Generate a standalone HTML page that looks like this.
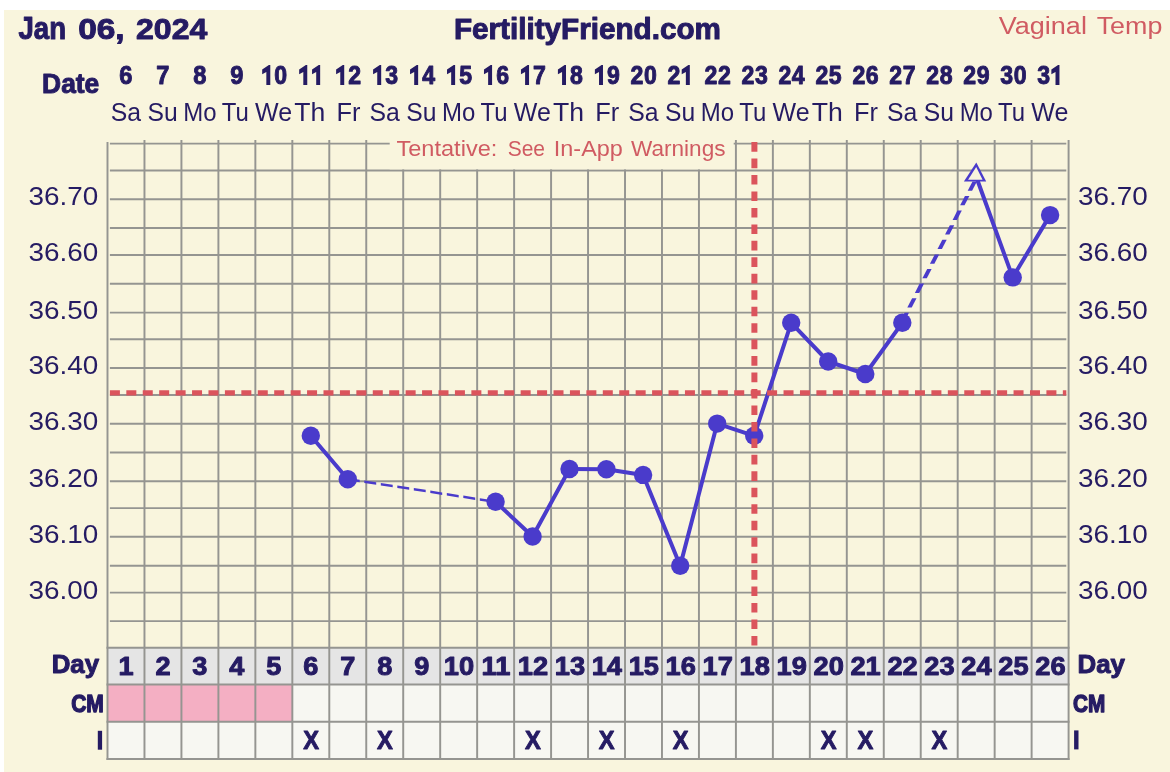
<!DOCTYPE html>
<html><head><meta charset="utf-8"><title>FertilityFriend Chart</title>
<style>
html,body{margin:0;padding:0;background:#fff;width:1170px;height:772px;overflow:hidden;}
svg{display:block;position:absolute;left:0;top:0;will-change:transform;}
text{font-family:"Liberation Sans",sans-serif;}
</style></head><body>
<svg width="1170" height="772" viewBox="0 0 1170 772">
<rect x="0" y="0" width="1170" height="772" fill="#ffffff"/>
<rect x="4" y="10" width="1166" height="762" fill="#f9f5dd"/>
<rect x="107.5" y="647.8" width="961.09" height="36.70" fill="#e5e5e5"/>
<rect x="107.5" y="684.5" width="961.09" height="74.50" fill="#f7f7f2"/>
<rect x="107.5" y="684.5" width="184.83" height="37.30" fill="#f4afc3"/>
<line x1="109.9" x2="1066.3" y1="143.6" y2="143.6" stroke="#959591" stroke-width="1.95"/>
<line x1="109.9" x2="1066.3" y1="170.4" y2="170.4" stroke="#959591" stroke-width="1.95"/>
<line x1="109.9" x2="1066.3" y1="199.2" y2="199.2" stroke="#959591" stroke-width="1.95"/>
<line x1="109.9" x2="1066.3" y1="228.0" y2="228.0" stroke="#959591" stroke-width="1.95"/>
<line x1="109.9" x2="1066.3" y1="254.9" y2="254.9" stroke="#959591" stroke-width="1.95"/>
<line x1="109.9" x2="1066.3" y1="283.8" y2="283.8" stroke="#959591" stroke-width="1.95"/>
<line x1="109.9" x2="1066.3" y1="312.6" y2="312.6" stroke="#959591" stroke-width="1.95"/>
<line x1="109.9" x2="1066.3" y1="339.3" y2="339.3" stroke="#959591" stroke-width="1.95"/>
<line x1="109.9" x2="1066.3" y1="367.9" y2="367.9" stroke="#959591" stroke-width="1.95"/>
<line x1="109.9" x2="1066.3" y1="395.0" y2="395.0" stroke="#959591" stroke-width="1.95"/>
<line x1="109.9" x2="1066.3" y1="423.7" y2="423.7" stroke="#959591" stroke-width="1.95"/>
<line x1="109.9" x2="1066.3" y1="452.5" y2="452.5" stroke="#959591" stroke-width="1.95"/>
<line x1="109.9" x2="1066.3" y1="481.2" y2="481.2" stroke="#959591" stroke-width="1.95"/>
<line x1="109.9" x2="1066.3" y1="508.1" y2="508.1" stroke="#959591" stroke-width="1.95"/>
<line x1="109.9" x2="1066.3" y1="536.8" y2="536.8" stroke="#959591" stroke-width="1.95"/>
<line x1="109.9" x2="1066.3" y1="565.7" y2="565.7" stroke="#959591" stroke-width="1.95"/>
<line x1="109.9" x2="1066.3" y1="592.6" y2="592.6" stroke="#959591" stroke-width="1.95"/>
<line x1="109.9" x2="1066.3" y1="621.1" y2="621.1" stroke="#959591" stroke-width="1.95"/>
<line x1="107.50" x2="107.50" y1="142" y2="760.0" stroke="#959591" stroke-width="1.95"/>
<line x1="144.47" x2="144.47" y1="140" y2="760.0" stroke="#959591" stroke-width="1.95"/>
<line x1="181.43" x2="181.43" y1="140" y2="760.0" stroke="#959591" stroke-width="1.95"/>
<line x1="218.40" x2="218.40" y1="140" y2="760.0" stroke="#959591" stroke-width="1.95"/>
<line x1="255.36" x2="255.36" y1="140" y2="760.0" stroke="#959591" stroke-width="1.95"/>
<line x1="292.33" x2="292.33" y1="140" y2="760.0" stroke="#959591" stroke-width="1.95"/>
<line x1="329.29" x2="329.29" y1="140" y2="760.0" stroke="#959591" stroke-width="1.95"/>
<line x1="366.25" x2="366.25" y1="140" y2="760.0" stroke="#959591" stroke-width="1.95"/>
<line x1="403.22" x2="403.22" y1="140" y2="760.0" stroke="#959591" stroke-width="1.95"/>
<line x1="440.19" x2="440.19" y1="140" y2="760.0" stroke="#959591" stroke-width="1.95"/>
<line x1="477.15" x2="477.15" y1="140" y2="760.0" stroke="#959591" stroke-width="1.95"/>
<line x1="514.12" x2="514.12" y1="140" y2="760.0" stroke="#959591" stroke-width="1.95"/>
<line x1="551.08" x2="551.08" y1="140" y2="760.0" stroke="#959591" stroke-width="1.95"/>
<line x1="588.05" x2="588.05" y1="140" y2="760.0" stroke="#959591" stroke-width="1.95"/>
<line x1="625.01" x2="625.01" y1="140" y2="760.0" stroke="#959591" stroke-width="1.95"/>
<line x1="661.98" x2="661.98" y1="140" y2="760.0" stroke="#959591" stroke-width="1.95"/>
<line x1="698.94" x2="698.94" y1="140" y2="760.0" stroke="#959591" stroke-width="1.95"/>
<line x1="735.91" x2="735.91" y1="140" y2="760.0" stroke="#959591" stroke-width="1.95"/>
<line x1="772.87" x2="772.87" y1="140" y2="760.0" stroke="#959591" stroke-width="1.95"/>
<line x1="809.84" x2="809.84" y1="140" y2="760.0" stroke="#959591" stroke-width="1.95"/>
<line x1="846.80" x2="846.80" y1="140" y2="760.0" stroke="#959591" stroke-width="1.95"/>
<line x1="883.77" x2="883.77" y1="140" y2="760.0" stroke="#959591" stroke-width="1.95"/>
<line x1="920.73" x2="920.73" y1="140" y2="760.0" stroke="#959591" stroke-width="1.95"/>
<line x1="957.70" x2="957.70" y1="140" y2="760.0" stroke="#959591" stroke-width="1.95"/>
<line x1="994.66" x2="994.66" y1="140" y2="760.0" stroke="#959591" stroke-width="1.95"/>
<line x1="1031.62" x2="1031.62" y1="140" y2="760.0" stroke="#959591" stroke-width="1.95"/>
<line x1="1068.59" x2="1068.59" y1="140" y2="760.0" stroke="#959591" stroke-width="1.95"/>
<line x1="106.5" x2="1069.49" y1="647.8" y2="647.8" stroke="#959591" stroke-width="1.95"/>
<line x1="106.5" x2="1069.49" y1="684.5" y2="684.5" stroke="#959591" stroke-width="1.95"/>
<line x1="106.5" x2="1069.49" y1="721.8" y2="721.8" stroke="#959591" stroke-width="1.95"/>
<line x1="106.5" x2="1069.49" y1="759.0" y2="759.0" stroke="#959591" stroke-width="1.95"/>
<rect x="389.7" y="136" width="344" height="33.3" fill="#f9f5dd"/>
<line x1="310.8" y1="435.8" x2="347.8" y2="479.2" stroke="#4a3bcb" stroke-width="4" stroke-linecap="round"/>
<polygon points="347.80,477.95 359.70,479.77 359.70,482.27 347.80,480.45" fill="#4a3bcb"/>
<polygon points="364.30,480.47 376.20,482.29 376.20,484.79 364.30,482.97" fill="#4a3bcb"/>
<polygon points="380.80,483.00 392.70,484.82 392.70,487.32 380.80,485.50" fill="#4a3bcb"/>
<polygon points="397.30,485.52 409.20,487.34 409.20,489.84 397.30,488.02" fill="#4a3bcb"/>
<polygon points="413.80,488.04 425.70,489.86 425.70,492.36 413.80,490.54" fill="#4a3bcb"/>
<polygon points="430.30,490.57 442.20,492.38 442.20,494.88 430.30,493.07" fill="#4a3bcb"/>
<polygon points="446.80,493.09 458.70,494.91 458.70,497.41 446.80,495.59" fill="#4a3bcb"/>
<polygon points="463.30,495.61 475.20,497.43 475.20,499.93 463.30,498.11" fill="#4a3bcb"/>
<polygon points="479.80,498.13 491.70,499.95 491.70,502.45 479.80,500.63" fill="#4a3bcb"/>
<line x1="495.6" y1="501.8" x2="532.6" y2="536.5" stroke="#4a3bcb" stroke-width="4" stroke-linecap="round"/>
<line x1="532.6" y1="536.5" x2="569.5" y2="469.0" stroke="#4a3bcb" stroke-width="4" stroke-linecap="round"/>
<line x1="569.5" y1="469.0" x2="606.4" y2="469.2" stroke="#4a3bcb" stroke-width="4" stroke-linecap="round"/>
<line x1="606.4" y1="469.2" x2="643.1" y2="474.9" stroke="#4a3bcb" stroke-width="4" stroke-linecap="round"/>
<line x1="643.1" y1="474.9" x2="680.2" y2="565.8" stroke="#4a3bcb" stroke-width="4" stroke-linecap="round"/>
<line x1="680.2" y1="565.8" x2="717.2" y2="423.6" stroke="#4a3bcb" stroke-width="4" stroke-linecap="round"/>
<line x1="717.2" y1="423.6" x2="754.2" y2="435.8" stroke="#4a3bcb" stroke-width="4" stroke-linecap="round"/>
<line x1="754.2" y1="435.8" x2="791.2" y2="322.8" stroke="#4a3bcb" stroke-width="4" stroke-linecap="round"/>
<line x1="791.2" y1="322.8" x2="828.2" y2="361.5" stroke="#4a3bcb" stroke-width="4" stroke-linecap="round"/>
<line x1="828.2" y1="361.5" x2="865.3" y2="374.0" stroke="#4a3bcb" stroke-width="4" stroke-linecap="round"/>
<line x1="865.3" y1="374.0" x2="902.3" y2="322.8" stroke="#4a3bcb" stroke-width="4" stroke-linecap="round"/>
<polygon points="899.75,322.10 904.56,312.80 908.96,312.80 904.15,322.10" fill="#4a3bcb"/>
<polygon points="907.30,307.50 912.11,298.20 916.51,298.20 911.70,307.50" fill="#4a3bcb"/>
<polygon points="914.85,292.90 919.66,283.60 924.06,283.60 919.25,292.90" fill="#4a3bcb"/>
<polygon points="922.40,278.30 927.21,269.00 931.61,269.00 926.80,278.30" fill="#4a3bcb"/>
<polygon points="929.95,263.70 934.76,254.40 939.16,254.40 934.35,263.70" fill="#4a3bcb"/>
<polygon points="937.50,249.10 942.30,239.80 946.70,239.80 941.90,249.10" fill="#4a3bcb"/>
<polygon points="945.04,234.50 949.85,225.20 954.25,225.20 949.44,234.50" fill="#4a3bcb"/>
<polygon points="952.59,219.90 957.40,210.60 961.80,210.60 956.99,219.90" fill="#4a3bcb"/>
<polygon points="960.14,205.30 964.95,196.00 969.35,196.00 964.54,205.30" fill="#4a3bcb"/>
<polygon points="967.69,190.70 972.50,181.40 976.90,181.40 972.09,190.70" fill="#4a3bcb"/>
<line x1="976.2" y1="176.7" x2="1012.7" y2="277.4" stroke="#4a3bcb" stroke-width="4" stroke-linecap="round"/>
<line x1="1012.7" y1="277.4" x2="1050.1" y2="215.1" stroke="#4a3bcb" stroke-width="4" stroke-linecap="round"/>
<circle cx="310.8" cy="435.8" r="9.2" fill="#4a3bcb"/>
<circle cx="347.8" cy="479.2" r="9.2" fill="#4a3bcb"/>
<circle cx="495.6" cy="501.8" r="9.2" fill="#4a3bcb"/>
<circle cx="532.6" cy="536.5" r="9.2" fill="#4a3bcb"/>
<circle cx="569.5" cy="469.0" r="9.2" fill="#4a3bcb"/>
<circle cx="606.4" cy="469.2" r="9.2" fill="#4a3bcb"/>
<circle cx="643.1" cy="474.9" r="9.2" fill="#4a3bcb"/>
<circle cx="680.2" cy="565.8" r="9.2" fill="#4a3bcb"/>
<circle cx="717.2" cy="423.6" r="9.2" fill="#4a3bcb"/>
<circle cx="754.2" cy="435.8" r="9.2" fill="#4a3bcb"/>
<circle cx="791.2" cy="322.8" r="9.2" fill="#4a3bcb"/>
<circle cx="828.2" cy="361.5" r="9.2" fill="#4a3bcb"/>
<circle cx="865.3" cy="374.0" r="9.2" fill="#4a3bcb"/>
<circle cx="902.3" cy="322.8" r="9.2" fill="#4a3bcb"/>
<circle cx="1012.7" cy="277.4" r="9.2" fill="#4a3bcb"/>
<circle cx="1050.1" cy="215.1" r="9.2" fill="#4a3bcb"/>
<polygon points="976.3,162.5 963.9,181.6 986.2,181.6" fill="#4a3bcb"/>
<polygon points="976.2,166.9 968.1,179.8 982.6,179.8" fill="#f9f5dd"/>
<line x1="109.9" x2="1066.3" y1="392.9" y2="392.9" stroke="#db545c" stroke-width="5.4" stroke-dasharray="10 6.43"/>
<line x1="754.4" x2="754.4" y1="142.1" y2="645.8" stroke="#db545c" stroke-width="6" stroke-dasharray="9.6 6.86"/>
<text transform="translate(18.45,38.70) scale(0.8920,1)" font-size="30.98" font-weight="bold" fill="#251b63" stroke="#251b63" stroke-width="1.0" stroke-linejoin="round">Jan</text>
<text transform="translate(78.16,38.70) scale(1.1135,1)" font-size="30.05" font-weight="bold" fill="#251b63" stroke="#251b63" stroke-width="1.0" stroke-linejoin="round">06,</text>
<text transform="translate(136.03,38.70) scale(1.0667,1)" font-size="30.05" font-weight="bold" fill="#251b63" stroke="#251b63" stroke-width="1.0" stroke-linejoin="round">2024</text>
<text transform="translate(453.90,39.20) scale(1.0098,1)" font-size="29.38" font-weight="bold" fill="#251b63" stroke="#251b63" stroke-width="1.0" stroke-linejoin="round">FertilityFriend.com</text>
<text transform="translate(998.70,34.30) scale(1.1008,1)" font-size="24.58" font-weight="normal" fill="#d05b62">Vaginal</text>
<text transform="translate(1096.70,34.30) scale(1.0927,1)" font-size="24.58" font-weight="normal" fill="#d05b62">Temp</text>
<text transform="translate(396.40,156.00) scale(1.0817,1)" font-size="21.82" font-weight="normal" fill="#d05b62">Tentative:</text>
<text transform="translate(507.70,156.00) scale(0.9621,1)" font-size="21.82" font-weight="normal" fill="#d05b62">See</text>
<text transform="translate(553.80,156.00) scale(1.0739,1)" font-size="21.82" font-weight="normal" fill="#d05b62">In-App</text>
<text transform="translate(631.00,156.00) scale(1.0353,1)" font-size="21.82" font-weight="normal" fill="#d05b62">Warnings</text>
<text transform="translate(42.09,92.80) scale(0.9864,1)" font-size="26.76" font-weight="bold" fill="#251b63" stroke="#251b63" stroke-width="1.0" stroke-linejoin="round">Date</text>
<text transform="translate(51.71,672.70) scale(1.0271,1)" font-size="25.16" font-weight="bold" fill="#251b63" stroke="#251b63" stroke-width="1.0" stroke-linejoin="round">Day</text>
<text transform="translate(71.19,711.60) scale(0.8496,1)" font-size="24.73" font-weight="bold" fill="#251b63" stroke="#251b63" stroke-width="1.4" stroke-linejoin="round">CM</text>
<text transform="translate(1077.51,672.70) scale(1.0292,1)" font-size="25.16" font-weight="bold" fill="#251b63" stroke="#251b63" stroke-width="1.0" stroke-linejoin="round">Day</text>
<text transform="translate(1073.09,711.60) scale(0.8396,1)" font-size="24.73" font-weight="bold" fill="#251b63" stroke="#251b63" stroke-width="1.4" stroke-linejoin="round">CM</text>
<rect x="97.8" y="730.8" width="4.3" height="18.9" fill="#251b63"/>
<rect x="1074.1" y="730.4" width="4.4" height="19.0" fill="#251b63"/>
<text transform="translate(119.30,84.30) scale(0.9000,1)" font-size="26.24" font-weight="bold" fill="#251b63" stroke="#251b63" stroke-width="1.0" stroke-linejoin="round">6</text>
<text transform="translate(110.73,120.75) scale(0.9619,1)" font-size="25.75" font-weight="normal" fill="#251b63">Sa</text>
<text transform="translate(118.44,675.20) scale(1.0400,1)" font-size="26.10" font-weight="bold" fill="#251b63" stroke="#251b63" stroke-width="1.0" stroke-linejoin="round">1</text>
<text transform="translate(156.27,84.30) scale(0.9000,1)" font-size="26.24" font-weight="bold" fill="#251b63" stroke="#251b63" stroke-width="1.0" stroke-linejoin="round">7</text>
<text transform="translate(147.50,120.75) scale(0.9587,1)" font-size="25.75" font-weight="normal" fill="#251b63">Su</text>
<text transform="translate(155.41,675.20) scale(1.0400,1)" font-size="26.10" font-weight="bold" fill="#251b63" stroke="#251b63" stroke-width="1.0" stroke-linejoin="round">2</text>
<text transform="translate(193.23,84.30) scale(0.9000,1)" font-size="26.24" font-weight="bold" fill="#251b63" stroke="#251b63" stroke-width="1.0" stroke-linejoin="round">8</text>
<text transform="translate(183.36,120.75) scale(0.9315,1)" font-size="25.75" font-weight="normal" fill="#251b63">Mo</text>
<text transform="translate(192.37,675.20) scale(1.0400,1)" font-size="26.10" font-weight="bold" fill="#251b63" stroke="#251b63" stroke-width="1.0" stroke-linejoin="round">3</text>
<text transform="translate(230.20,84.30) scale(0.9000,1)" font-size="26.24" font-weight="bold" fill="#251b63" stroke="#251b63" stroke-width="1.0" stroke-linejoin="round">9</text>
<text transform="translate(221.83,120.75) scale(0.9305,1)" font-size="25.75" font-weight="normal" fill="#251b63">Tu</text>
<text transform="translate(229.34,675.20) scale(1.0400,1)" font-size="26.10" font-weight="bold" fill="#251b63" stroke="#251b63" stroke-width="1.0" stroke-linejoin="round">4</text>
<polygon points="270.29,65.00 270.29,84.90 266.34,84.90 266.34,72.00 262.19,74.30 262.19,69.50 268.89,65.00" fill="#251b63"/>
<text transform="translate(274.36,84.30) scale(0.8800,1)" font-size="26.24" font-weight="bold" fill="#251b63" stroke="#251b63" stroke-width="1.0" stroke-linejoin="round">0</text>
<text transform="translate(255.09,120.75) scale(0.9705,1)" font-size="25.75" font-weight="normal" fill="#251b63">We</text>
<text transform="translate(266.30,675.20) scale(1.0400,1)" font-size="26.10" font-weight="bold" fill="#251b63" stroke="#251b63" stroke-width="1.0" stroke-linejoin="round">5</text>
<polygon points="307.26,65.00 307.26,84.90 303.31,84.90 303.31,72.00 299.16,74.30 299.16,69.50 305.86,65.00" fill="#251b63"/>
<polygon points="320.16,65.00 320.16,84.90 316.21,84.90 316.21,72.00 312.06,74.30 312.06,69.50 318.76,65.00" fill="#251b63"/>
<text transform="translate(294.16,120.75) scale(1.0333,1)" font-size="25.75" font-weight="normal" fill="#251b63">Th</text>
<text transform="translate(303.27,675.20) scale(1.0400,1)" font-size="26.10" font-weight="bold" fill="#251b63" stroke="#251b63" stroke-width="1.0" stroke-linejoin="round">6</text>
<polygon points="344.22,65.00 344.22,84.90 340.27,84.90 340.27,72.00 336.12,74.30 336.12,69.50 342.82,65.00" fill="#251b63"/>
<text transform="translate(348.29,84.30) scale(0.8800,1)" font-size="26.24" font-weight="bold" fill="#251b63" stroke="#251b63" stroke-width="1.0" stroke-linejoin="round">2</text>
<text transform="translate(336.42,120.75) scale(0.9856,1)" font-size="25.75" font-weight="normal" fill="#251b63">Fr</text>
<text transform="translate(340.23,675.20) scale(1.0400,1)" font-size="26.10" font-weight="bold" fill="#251b63" stroke="#251b63" stroke-width="1.0" stroke-linejoin="round">7</text>
<polygon points="381.19,65.00 381.19,84.90 377.24,84.90 377.24,72.00 373.09,74.30 373.09,69.50 379.79,65.00" fill="#251b63"/>
<text transform="translate(385.25,84.30) scale(0.8800,1)" font-size="26.24" font-weight="bold" fill="#251b63" stroke="#251b63" stroke-width="1.0" stroke-linejoin="round">3</text>
<text transform="translate(369.49,120.75) scale(0.9619,1)" font-size="25.75" font-weight="normal" fill="#251b63">Sa</text>
<text transform="translate(377.20,675.20) scale(1.0400,1)" font-size="26.10" font-weight="bold" fill="#251b63" stroke="#251b63" stroke-width="1.0" stroke-linejoin="round">8</text>
<polygon points="418.15,65.00 418.15,84.90 414.20,84.90 414.20,72.00 410.05,74.30 410.05,69.50 416.75,65.00" fill="#251b63"/>
<text transform="translate(422.22,84.30) scale(0.8800,1)" font-size="26.24" font-weight="bold" fill="#251b63" stroke="#251b63" stroke-width="1.0" stroke-linejoin="round">4</text>
<text transform="translate(406.25,120.75) scale(0.9587,1)" font-size="25.75" font-weight="normal" fill="#251b63">Su</text>
<text transform="translate(414.16,675.20) scale(1.0400,1)" font-size="26.10" font-weight="bold" fill="#251b63" stroke="#251b63" stroke-width="1.0" stroke-linejoin="round">9</text>
<polygon points="455.12,65.00 455.12,84.90 451.17,84.90 451.17,72.00 447.02,74.30 447.02,69.50 453.72,65.00" fill="#251b63"/>
<text transform="translate(459.18,84.30) scale(0.8800,1)" font-size="26.24" font-weight="bold" fill="#251b63" stroke="#251b63" stroke-width="1.0" stroke-linejoin="round">5</text>
<text transform="translate(442.12,120.75) scale(0.9315,1)" font-size="25.75" font-weight="normal" fill="#251b63">Mo</text>
<text transform="translate(443.82,675.20) scale(1.0450,1)" font-size="26.10" font-weight="bold" fill="#251b63" stroke="#251b63" stroke-width="1.0" stroke-linejoin="round">10</text>
<polygon points="492.08,65.00 492.08,84.90 488.13,84.90 488.13,72.00 483.98,74.30 483.98,69.50 490.68,65.00" fill="#251b63"/>
<text transform="translate(496.15,84.30) scale(0.8800,1)" font-size="26.24" font-weight="bold" fill="#251b63" stroke="#251b63" stroke-width="1.0" stroke-linejoin="round">6</text>
<text transform="translate(480.58,120.75) scale(0.9305,1)" font-size="25.75" font-weight="normal" fill="#251b63">Tu</text>
<text transform="translate(481.50,675.20) scale(1.0450,1)" font-size="26.10" font-weight="bold" fill="#251b63" stroke="#251b63" stroke-width="1.0" stroke-linejoin="round">11</text>
<polygon points="529.05,65.00 529.05,84.90 525.10,84.90 525.10,72.00 520.95,74.30 520.95,69.50 527.65,65.00" fill="#251b63"/>
<text transform="translate(533.11,84.30) scale(0.8800,1)" font-size="26.24" font-weight="bold" fill="#251b63" stroke="#251b63" stroke-width="1.0" stroke-linejoin="round">7</text>
<text transform="translate(513.85,120.75) scale(0.9705,1)" font-size="25.75" font-weight="normal" fill="#251b63">We</text>
<text transform="translate(517.75,675.20) scale(1.0450,1)" font-size="26.10" font-weight="bold" fill="#251b63" stroke="#251b63" stroke-width="1.0" stroke-linejoin="round">12</text>
<polygon points="566.01,65.00 566.01,84.90 562.06,84.90 562.06,72.00 557.91,74.30 557.91,69.50 564.61,65.00" fill="#251b63"/>
<text transform="translate(570.08,84.30) scale(0.8800,1)" font-size="26.24" font-weight="bold" fill="#251b63" stroke="#251b63" stroke-width="1.0" stroke-linejoin="round">8</text>
<text transform="translate(552.91,120.75) scale(1.0333,1)" font-size="25.75" font-weight="normal" fill="#251b63">Th</text>
<text transform="translate(554.71,675.20) scale(1.0450,1)" font-size="26.10" font-weight="bold" fill="#251b63" stroke="#251b63" stroke-width="1.0" stroke-linejoin="round">13</text>
<polygon points="602.98,65.00 602.98,84.90 599.03,84.90 599.03,72.00 594.88,74.30 594.88,69.50 601.58,65.00" fill="#251b63"/>
<text transform="translate(607.04,84.30) scale(0.8800,1)" font-size="26.24" font-weight="bold" fill="#251b63" stroke="#251b63" stroke-width="1.0" stroke-linejoin="round">9</text>
<text transform="translate(595.18,120.75) scale(0.9856,1)" font-size="25.75" font-weight="normal" fill="#251b63">Fr</text>
<text transform="translate(591.67,675.20) scale(1.0450,1)" font-size="26.10" font-weight="bold" fill="#251b63" stroke="#251b63" stroke-width="1.0" stroke-linejoin="round">14</text>
<text transform="translate(630.61,84.30) scale(0.8800,1)" font-size="26.24" font-weight="bold" fill="#251b63" stroke="#251b63" stroke-width="1.0" stroke-linejoin="round">2</text>
<text transform="translate(644.01,84.30) scale(0.8800,1)" font-size="26.24" font-weight="bold" fill="#251b63" stroke="#251b63" stroke-width="1.0" stroke-linejoin="round">0</text>
<text transform="translate(628.24,120.75) scale(0.9619,1)" font-size="25.75" font-weight="normal" fill="#251b63">Sa</text>
<text transform="translate(628.64,675.20) scale(1.0450,1)" font-size="26.10" font-weight="bold" fill="#251b63" stroke="#251b63" stroke-width="1.0" stroke-linejoin="round">15</text>
<text transform="translate(667.57,84.30) scale(0.8800,1)" font-size="26.24" font-weight="bold" fill="#251b63" stroke="#251b63" stroke-width="1.0" stroke-linejoin="round">2</text>
<polygon points="689.81,65.00 689.81,84.90 685.86,84.90 685.86,72.00 681.71,74.30 681.71,69.50 688.41,65.00" fill="#251b63"/>
<text transform="translate(665.01,120.75) scale(0.9587,1)" font-size="25.75" font-weight="normal" fill="#251b63">Su</text>
<text transform="translate(665.61,675.20) scale(1.0450,1)" font-size="26.10" font-weight="bold" fill="#251b63" stroke="#251b63" stroke-width="1.0" stroke-linejoin="round">16</text>
<text transform="translate(704.54,84.30) scale(0.8800,1)" font-size="26.24" font-weight="bold" fill="#251b63" stroke="#251b63" stroke-width="1.0" stroke-linejoin="round">2</text>
<text transform="translate(717.94,84.30) scale(0.8800,1)" font-size="26.24" font-weight="bold" fill="#251b63" stroke="#251b63" stroke-width="1.0" stroke-linejoin="round">2</text>
<text transform="translate(700.87,120.75) scale(0.9315,1)" font-size="25.75" font-weight="normal" fill="#251b63">Mo</text>
<text transform="translate(702.57,675.20) scale(1.0450,1)" font-size="26.10" font-weight="bold" fill="#251b63" stroke="#251b63" stroke-width="1.0" stroke-linejoin="round">17</text>
<text transform="translate(741.50,84.30) scale(0.8800,1)" font-size="26.24" font-weight="bold" fill="#251b63" stroke="#251b63" stroke-width="1.0" stroke-linejoin="round">2</text>
<text transform="translate(754.90,84.30) scale(0.8800,1)" font-size="26.24" font-weight="bold" fill="#251b63" stroke="#251b63" stroke-width="1.0" stroke-linejoin="round">3</text>
<text transform="translate(739.34,120.75) scale(0.9305,1)" font-size="25.75" font-weight="normal" fill="#251b63">Tu</text>
<text transform="translate(739.53,675.20) scale(1.0450,1)" font-size="26.10" font-weight="bold" fill="#251b63" stroke="#251b63" stroke-width="1.0" stroke-linejoin="round">18</text>
<text transform="translate(778.47,84.30) scale(0.8800,1)" font-size="26.24" font-weight="bold" fill="#251b63" stroke="#251b63" stroke-width="1.0" stroke-linejoin="round">2</text>
<text transform="translate(791.87,84.30) scale(0.8800,1)" font-size="26.24" font-weight="bold" fill="#251b63" stroke="#251b63" stroke-width="1.0" stroke-linejoin="round">4</text>
<text transform="translate(772.60,120.75) scale(0.9705,1)" font-size="25.75" font-weight="normal" fill="#251b63">We</text>
<text transform="translate(776.50,675.20) scale(1.0450,1)" font-size="26.10" font-weight="bold" fill="#251b63" stroke="#251b63" stroke-width="1.0" stroke-linejoin="round">19</text>
<text transform="translate(815.43,84.30) scale(0.8800,1)" font-size="26.24" font-weight="bold" fill="#251b63" stroke="#251b63" stroke-width="1.0" stroke-linejoin="round">2</text>
<text transform="translate(828.83,84.30) scale(0.8800,1)" font-size="26.24" font-weight="bold" fill="#251b63" stroke="#251b63" stroke-width="1.0" stroke-linejoin="round">5</text>
<text transform="translate(811.67,120.75) scale(1.0333,1)" font-size="25.75" font-weight="normal" fill="#251b63">Th</text>
<text transform="translate(813.47,675.20) scale(1.0450,1)" font-size="26.10" font-weight="bold" fill="#251b63" stroke="#251b63" stroke-width="1.0" stroke-linejoin="round">20</text>
<text transform="translate(852.40,84.30) scale(0.8800,1)" font-size="26.24" font-weight="bold" fill="#251b63" stroke="#251b63" stroke-width="1.0" stroke-linejoin="round">2</text>
<text transform="translate(865.80,84.30) scale(0.8800,1)" font-size="26.24" font-weight="bold" fill="#251b63" stroke="#251b63" stroke-width="1.0" stroke-linejoin="round">6</text>
<text transform="translate(853.93,120.75) scale(0.9856,1)" font-size="25.75" font-weight="normal" fill="#251b63">Fr</text>
<text transform="translate(850.43,675.20) scale(1.0450,1)" font-size="26.10" font-weight="bold" fill="#251b63" stroke="#251b63" stroke-width="1.0" stroke-linejoin="round">21</text>
<text transform="translate(889.36,84.30) scale(0.8800,1)" font-size="26.24" font-weight="bold" fill="#251b63" stroke="#251b63" stroke-width="1.0" stroke-linejoin="round">2</text>
<text transform="translate(902.76,84.30) scale(0.8800,1)" font-size="26.24" font-weight="bold" fill="#251b63" stroke="#251b63" stroke-width="1.0" stroke-linejoin="round">7</text>
<text transform="translate(887.00,120.75) scale(0.9619,1)" font-size="25.75" font-weight="normal" fill="#251b63">Sa</text>
<text transform="translate(887.39,675.20) scale(1.0450,1)" font-size="26.10" font-weight="bold" fill="#251b63" stroke="#251b63" stroke-width="1.0" stroke-linejoin="round">22</text>
<text transform="translate(926.33,84.30) scale(0.8800,1)" font-size="26.24" font-weight="bold" fill="#251b63" stroke="#251b63" stroke-width="1.0" stroke-linejoin="round">2</text>
<text transform="translate(939.73,84.30) scale(0.8800,1)" font-size="26.24" font-weight="bold" fill="#251b63" stroke="#251b63" stroke-width="1.0" stroke-linejoin="round">8</text>
<text transform="translate(923.76,120.75) scale(0.9587,1)" font-size="25.75" font-weight="normal" fill="#251b63">Su</text>
<text transform="translate(924.36,675.20) scale(1.0450,1)" font-size="26.10" font-weight="bold" fill="#251b63" stroke="#251b63" stroke-width="1.0" stroke-linejoin="round">23</text>
<text transform="translate(963.29,84.30) scale(0.8800,1)" font-size="26.24" font-weight="bold" fill="#251b63" stroke="#251b63" stroke-width="1.0" stroke-linejoin="round">2</text>
<text transform="translate(976.69,84.30) scale(0.8800,1)" font-size="26.24" font-weight="bold" fill="#251b63" stroke="#251b63" stroke-width="1.0" stroke-linejoin="round">9</text>
<text transform="translate(959.63,120.75) scale(0.9315,1)" font-size="25.75" font-weight="normal" fill="#251b63">Mo</text>
<text transform="translate(961.33,675.20) scale(1.0450,1)" font-size="26.10" font-weight="bold" fill="#251b63" stroke="#251b63" stroke-width="1.0" stroke-linejoin="round">24</text>
<text transform="translate(1000.26,84.30) scale(0.8800,1)" font-size="26.24" font-weight="bold" fill="#251b63" stroke="#251b63" stroke-width="1.0" stroke-linejoin="round">3</text>
<text transform="translate(1013.66,84.30) scale(0.8800,1)" font-size="26.24" font-weight="bold" fill="#251b63" stroke="#251b63" stroke-width="1.0" stroke-linejoin="round">0</text>
<text transform="translate(998.09,120.75) scale(0.9305,1)" font-size="25.75" font-weight="normal" fill="#251b63">Tu</text>
<text transform="translate(998.29,675.20) scale(1.0450,1)" font-size="26.10" font-weight="bold" fill="#251b63" stroke="#251b63" stroke-width="1.0" stroke-linejoin="round">25</text>
<text transform="translate(1037.22,84.30) scale(0.8800,1)" font-size="26.24" font-weight="bold" fill="#251b63" stroke="#251b63" stroke-width="1.0" stroke-linejoin="round">3</text>
<polygon points="1059.46,65.00 1059.46,84.90 1055.51,84.90 1055.51,72.00 1051.36,74.30 1051.36,69.50 1058.06,65.00" fill="#251b63"/>
<text transform="translate(1031.36,120.75) scale(0.9705,1)" font-size="25.75" font-weight="normal" fill="#251b63">We</text>
<text transform="translate(1035.26,675.20) scale(1.0450,1)" font-size="26.10" font-weight="bold" fill="#251b63" stroke="#251b63" stroke-width="1.0" stroke-linejoin="round">26</text>
<text transform="translate(303.13,749.30) scale(0.9000,1)" font-size="26.33" font-weight="bold" fill="#251b63" stroke="#251b63" stroke-width="1.0" stroke-linejoin="round">X</text>
<text transform="translate(377.06,749.30) scale(0.9000,1)" font-size="26.33" font-weight="bold" fill="#251b63" stroke="#251b63" stroke-width="1.0" stroke-linejoin="round">X</text>
<text transform="translate(524.92,749.30) scale(0.9000,1)" font-size="26.33" font-weight="bold" fill="#251b63" stroke="#251b63" stroke-width="1.0" stroke-linejoin="round">X</text>
<text transform="translate(598.85,749.30) scale(0.9000,1)" font-size="26.33" font-weight="bold" fill="#251b63" stroke="#251b63" stroke-width="1.0" stroke-linejoin="round">X</text>
<text transform="translate(672.78,749.30) scale(0.9000,1)" font-size="26.33" font-weight="bold" fill="#251b63" stroke="#251b63" stroke-width="1.0" stroke-linejoin="round">X</text>
<text transform="translate(820.64,749.30) scale(0.9000,1)" font-size="26.33" font-weight="bold" fill="#251b63" stroke="#251b63" stroke-width="1.0" stroke-linejoin="round">X</text>
<text transform="translate(857.61,749.30) scale(0.9000,1)" font-size="26.33" font-weight="bold" fill="#251b63" stroke="#251b63" stroke-width="1.0" stroke-linejoin="round">X</text>
<text transform="translate(931.54,749.30) scale(0.9000,1)" font-size="26.33" font-weight="bold" fill="#251b63" stroke="#251b63" stroke-width="1.0" stroke-linejoin="round">X</text>
<text transform="translate(28.60,205.40) scale(1.0864,1)" font-size="25.68" font-weight="normal" fill="#251b63">36.70</text>
<text transform="translate(1077.90,205.40) scale(1.0864,1)" font-size="25.68" font-weight="normal" fill="#251b63">36.70</text>
<text transform="translate(28.60,261.10) scale(1.0864,1)" font-size="25.68" font-weight="normal" fill="#251b63">36.60</text>
<text transform="translate(1077.90,261.10) scale(1.0864,1)" font-size="25.68" font-weight="normal" fill="#251b63">36.60</text>
<text transform="translate(28.60,318.80) scale(1.0864,1)" font-size="25.68" font-weight="normal" fill="#251b63">36.50</text>
<text transform="translate(1077.90,318.80) scale(1.0864,1)" font-size="25.68" font-weight="normal" fill="#251b63">36.50</text>
<text transform="translate(28.60,374.10) scale(1.0864,1)" font-size="25.68" font-weight="normal" fill="#251b63">36.40</text>
<text transform="translate(1077.90,374.10) scale(1.0864,1)" font-size="25.68" font-weight="normal" fill="#251b63">36.40</text>
<text transform="translate(28.60,429.90) scale(1.0864,1)" font-size="25.68" font-weight="normal" fill="#251b63">36.30</text>
<text transform="translate(1077.90,429.90) scale(1.0864,1)" font-size="25.68" font-weight="normal" fill="#251b63">36.30</text>
<text transform="translate(28.60,487.40) scale(1.0864,1)" font-size="25.68" font-weight="normal" fill="#251b63">36.20</text>
<text transform="translate(1077.90,487.40) scale(1.0864,1)" font-size="25.68" font-weight="normal" fill="#251b63">36.20</text>
<text transform="translate(28.60,543.00) scale(1.0864,1)" font-size="25.68" font-weight="normal" fill="#251b63">36.10</text>
<text transform="translate(1077.90,543.00) scale(1.0864,1)" font-size="25.68" font-weight="normal" fill="#251b63">36.10</text>
<text transform="translate(28.60,598.80) scale(1.0864,1)" font-size="25.68" font-weight="normal" fill="#251b63">36.00</text>
<text transform="translate(1077.90,598.80) scale(1.0864,1)" font-size="25.68" font-weight="normal" fill="#251b63">36.00</text>
</svg>
</body></html>
